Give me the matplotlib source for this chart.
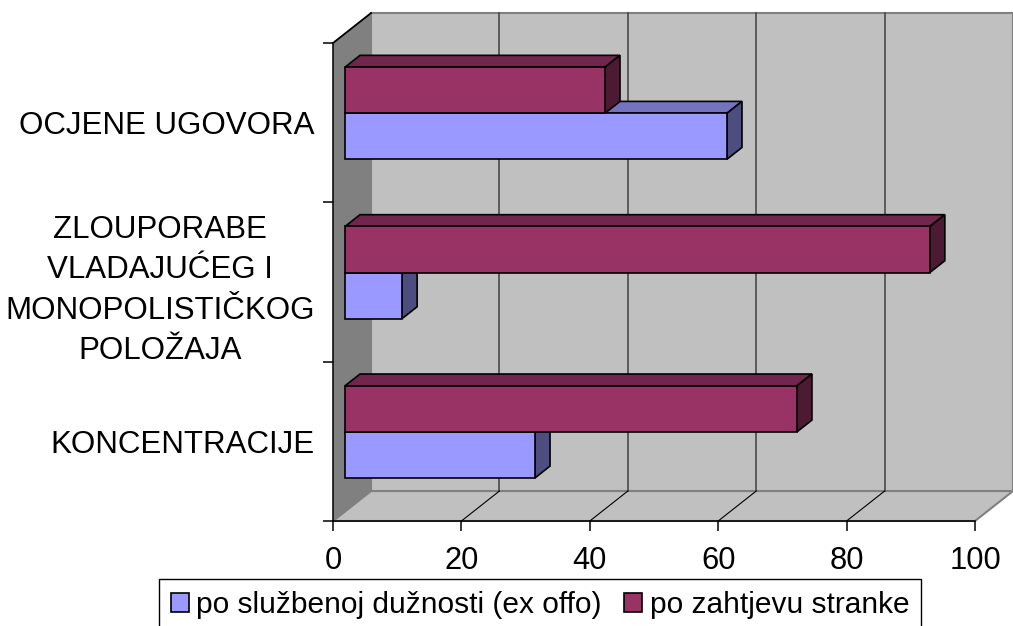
import matplotlib
matplotlib.use('Agg')
import matplotlib.pyplot as plt
from matplotlib.patches import Polygon, Patch

plt.rcParams['font.family'] = ['Liberation Sans', 'DejaVu Sans']

# podaci (udio u %)
kategorije = ['KONCENTRACIJE',
              'ZLOUPORABE\nVLADAJUĆEG I\nMONOPOLISTIČKOG\nPOLOŽAJA',
              'OCJENE UGOVORA']
ex_offo = [29.6, 8.9, 59.5]
zahtjev = [70.4, 91.1, 40.5]
serije = ['po službenoj dužnosti (ex offo)', 'po zahtjevu stranke']
x_ticks = [0, 20, 40, 60, 80, 100]

# boje: lice, vrh, bok
boje = [('#9999FF', '#7373BF', '#4D4D80'),
        ('#993366', '#73264D', '#4D1A33')]

fig = plt.figure(figsize=(10.13, 6.26), dpi=100)
ax = fig.add_axes([333 / 1013, 1 - 521 / 626, 642 / 1013, 478 / 626])
ax.set_xlim(0, 100)
ax.set_ylim(0, 3)
ax.patch.set_visible(False)

# 3D dubina u jedinicama osi
dx, dy = 5.92, 0.188
f0, f1 = 0.316, 0.71
h = 0.289
fs = 22.5

# zidovi i pod
ax.add_patch(Polygon([(dx, dy), (100 + dx, dy), (100 + dx, 3 + dy), (dx, 3 + dy)],
                     fc='#C0C0C0', ec='#808080', lw=1.5, clip_on=False, zorder=0.1))
ax.add_patch(Polygon([(0, 0), (100, 0), (100 + dx, dy), (dx, dy)],
                     fc='#C0C0C0', ec='#808080', lw=1.5, clip_on=False, zorder=0.2))
ax.add_patch(Polygon([(0, 0), (dx, dy), (dx, 3 + dy), (0, 3)],
                     fc='#808080', ec='none', clip_on=False, zorder=0.2))
ax.plot([0, dx], [3, 3 + dy], color='black', lw=1.3, clip_on=False, zorder=0.3)

for t in x_ticks[1:-1]:
    ax.plot([t + dx, t + dx], [dy, 3 + dy], color='#404040', lw=1.1, clip_on=False, zorder=0.3)
    ax.plot([t, t + dx], [0, dy], color='black', lw=0.8, clip_on=False, zorder=0.3)

# stupci
x0 = f0 * dx
bdx, bdy = (f1 - f0) * dx, (f1 - f0) * dy
for i in range(len(kategorije)):
    yc = i + 0.5 + f0 * dy
    for s, (vals, y0) in enumerate([(ex_offo, yc - h), (zahtjev, yc)]):
        v = vals[i]
        lice, vrh, bok = boje[s]
        z = 2 + s
        ax.add_patch(Polygon([(x0, y0 + h), (x0 + v, y0 + h), (x0 + v + bdx, y0 + h + bdy),
                              (x0 + bdx, y0 + h + bdy)],
                             fc=vrh, ec='black', lw=1.2, joinstyle='miter', clip_on=False, zorder=z))
        ax.add_patch(Polygon([(x0 + v, y0), (x0 + v, y0 + h), (x0 + v + bdx, y0 + h + bdy),
                              (x0 + v + bdx, y0 + bdy)],
                             fc=bok, ec='black', lw=1.2, joinstyle='miter', clip_on=False, zorder=z))
        ax.barh(y0, v, left=x0, height=h, align='edge', color=lice,
                edgecolor='black', lw=1.2, zorder=z + 0.01)

# osi
for sp in ['top', 'right']:
    ax.spines[sp].set_visible(False)
for sp in ['left', 'bottom']:
    ax.spines[sp].set_linewidth(1.1)
    ax.spines[sp].set_zorder(1)

ax.set_xticks(x_ticks)
ax.tick_params(axis='x', length=7.2, width=1.1, pad=11, labelsize=22.2)
ax.set_yticks([0, 1, 2, 3])
ax.set_yticklabels([])
ax.tick_params(axis='y', which='major', length=7.2, width=1.1)
ax.set_yticks([0.5, 1.5, 2.5], kategorije, minor=True)
ax.tick_params(axis='y', which='minor', length=0, pad=13, labelsize=fs)
for lab in ax.get_yticklabels(minor=True):
    lab.set_multialignment('center')
    lab.set_linespacing(1.45)

handles = [Patch(fc=boje[0][0], ec='black', lw=1.2), Patch(fc=boje[1][0], ec='black', lw=1.2)]
leg = fig.legend(handles, serije, loc='upper left', bbox_to_anchor=(159 / 1013, 1 - 579 / 626),
                 ncol=2, fancybox=False, edgecolor='black', framealpha=1, fontsize=21.5,
                 borderpad=0.4, handlelength=0.6, handleheight=0.6, handletextpad=0.25,
                 columnspacing=0.75, borderaxespad=0)
leg.get_frame().set_linewidth(1.0)

fig.savefig('out.png', dpi=100)
